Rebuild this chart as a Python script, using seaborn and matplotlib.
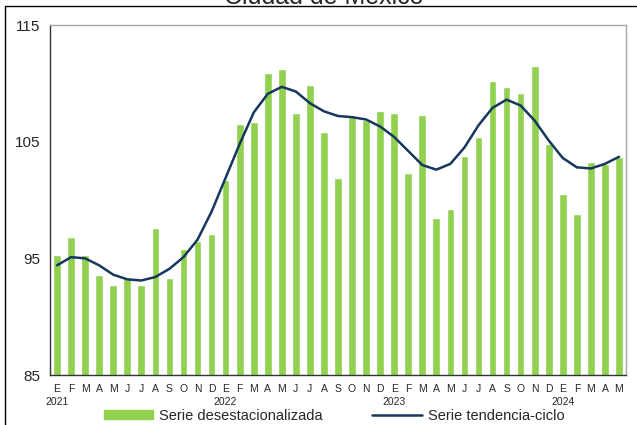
import matplotlib
matplotlib.use("Agg")
import matplotlib.pyplot as plt
import matplotlib.lines as mlines
import matplotlib.patches as mpatches
import seaborn as sns
import pandas as pd
import numpy as np

months = ["E", "F", "M", "A", "M", "J", "J", "A", "S", "O", "N", "D",
          "E", "F", "M", "A", "M", "J", "J", "A", "S", "O", "N", "D",
          "E", "F", "M", "A", "M", "J", "J", "A", "S", "O", "N", "D",
          "E", "F", "M", "A", "M"]
years = ["2021", "2022", "2023", "2024"]

desest = [95.3, 96.8, 95.3, 93.6, 92.7, 93.3, 92.7, 97.6, 93.3, 95.8, 96.5, 97.1,
          101.7, 106.5, 106.7, 110.9, 111.2, 107.5, 109.9, 105.8, 101.9, 107.1, 106.9, 107.6,
          107.5, 102.3, 107.3, 98.5, 99.2, 103.8, 105.4, 110.2, 109.7, 109.2, 111.5, 104.8,
          100.5, 98.8, 103.3, 103.1, 103.7]
tendencia = [94.4, 95.1, 95.0, 94.4, 93.6, 93.2, 93.1, 93.4, 94.1, 95.1, 96.6, 99.0,
             101.9, 104.8, 107.5, 109.1, 109.7, 109.3, 108.3, 107.6, 107.2, 107.1, 106.9, 106.3,
             105.4, 104.2, 103.0, 102.6, 103.1, 104.5, 106.4, 107.9, 108.6, 108.1, 106.8, 105.1,
             103.6, 102.8, 102.7, 103.1, 103.7]

bar_color = "#92D050"
line_color = "#17375E"

df = pd.DataFrame({"idx": np.arange(len(desest)), "desest": desest, "tend": tendencia})

sns.set_style("white")
plt.rcParams["font.family"] = ["Liberation Sans", "DejaVu Sans"]

fig = plt.figure(figsize=(6.37, 4.25), dpi=100)
ax = fig.add_axes([50/637, 50/425, 576/637, 350/425])

sns.barplot(data=df, x="idx", y="desest", color=bar_color, width=0.55,
            saturation=1, ax=ax, zorder=2)
sns.lineplot(data=df, x="idx", y="tend", color=line_color, linewidth=1.8,
             ax=ax, zorder=3)

ax.set_xlim(-0.5, len(desest) - 0.5)
ax.set_ylim(85, 115)
ax.set_yticks([85, 95, 105, 115])
ax.set_yticklabels(["85", "95", "105", "115"], fontsize=11)
ax.set_xlabel("")
ax.set_ylabel("")

# year boundary ticks
ax.set_xticks([-0.5, 11.5, 23.5, 35.5])
ax.set_xticklabels([])
ax.tick_params(axis="x", direction="out", length=4, width=0.8, color="#333333")
ax.tick_params(axis="y", direction="out", length=5, width=0.8, color="#333333", pad=2)

for s in ["left", "bottom"]:
    ax.spines[s].set_color("#333333")
    ax.spines[s].set_linewidth(1.0)
for s in ["top", "right"]:
    ax.spines[s].set_visible(True)
    ax.spines[s].set_color("#A6A6A6")
    ax.spines[s].set_linewidth(1.0)

trans = ax.get_xaxis_transform()
for i, m in enumerate(months):
    ax.text(i, -0.04, m, transform=trans, ha="center", va="center", fontsize=7.5)
for k, y in enumerate(years):
    ax.text(12 * k, -0.078, y, transform=trans, ha="center", va="center", fontsize=7.5)

# title (cut at top as in reference)
fig.text(324/637, 1 - 4/425, "Ciudad de México", ha="center", va="baseline", fontsize=18)

# outer frame lines
fig.add_artist(mlines.Line2D([5/637, 1], [1 - 6/425, 1 - 6/425], color="black", lw=1.0,
                             transform=fig.transFigure))
fig.add_artist(mlines.Line2D([5/637, 5/637], [0, 1 - 6/425], color="black", lw=1.0,
                             transform=fig.transFigure))

handles = [mpatches.Patch(color=bar_color, label="Serie desestacionalizada"),
           mlines.Line2D([], [], color=line_color, lw=1.8, label="Serie tendencia-ciclo")]
fig.legend(handles=handles, loc="center", bbox_to_anchor=(334/637, 9/425), ncol=2,
           frameon=False, fontsize=10.5, handlelength=3.4, handletextpad=0.4,
           columnspacing=3.4, handleheight=0.55, borderpad=0, borderaxespad=0)

fig.savefig("out.png", dpi=100)
